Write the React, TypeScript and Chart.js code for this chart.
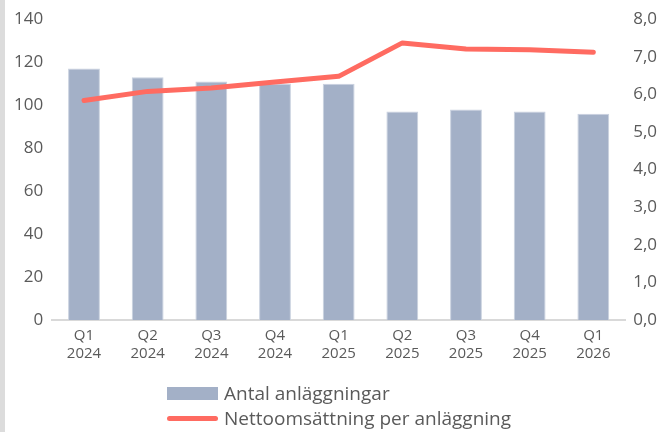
import React, { useEffect, useRef } from "react";
import { Chart, registerables } from "chart.js";

Chart.register(...registerables);

const categories: string[][] = [
  ["Q1", "2024"], ["Q2", "2024"], ["Q3", "2024"], ["Q4", "2024"],
  ["Q1", "2025"], ["Q2", "2025"], ["Q3", "2025"], ["Q4", "2025"], ["Q1", "2026"],
];
const antalAnlaggningar: number[] = [117, 113, 111, 110, 110, 97, 98, 97, 96];
const nettoPerAnlaggning: number[] = [5.84, 6.08, 6.17, 6.33, 6.48, 7.37, 7.21, 7.19, 7.12];

const barLabel = "Antal anläggningar";
const lineLabel = "Nettoomsättning per anläggning";
const barColor = "#a3b0c7";
const lineColor = "#ff6b61";
const textColor = "#5a5a5a";
const fontFamily = "'Open Sans', Inter, sans-serif";

export default function App() {
  const ref = useRef<HTMLCanvasElement>(null);
  useEffect(() => {
    document.body.style.margin = "0";
    const ctx = ref.current!;
    const chart = new Chart(ctx, {
      type: "bar",
      data: {
        labels: categories,
        datasets: [
          {
            type: "line",
            label: lineLabel,
            data: nettoPerAnlaggning,
            yAxisID: "y1",
            borderColor: lineColor,
            backgroundColor: lineColor,
            borderWidth: 5,
            pointRadius: 0,
            borderCapStyle: "round",
            borderJoinStyle: "round",
            tension: 0,
            order: 0,
          },
          {
            type: "bar",
            label: barLabel,
            data: antalAnlaggningar,
            yAxisID: "y",
            backgroundColor: barColor,
            borderColor: "#c9d1df",
            borderWidth: 1,
            barPercentage: 0.5,
            categoryPercentage: 1,
            order: 1,
          },
        ],
      },
      options: {
        responsive: false,
        animation: false,
        layout: { padding: { top: 0, right: 2, bottom: 62, left: 5 } },
        plugins: { legend: { display: false }, tooltip: { enabled: false } },
        scales: {
          x: {
            grid: { display: false, drawTicks: false },
            border: { display: true, color: "#d9d9d9", width: 2 },
            ticks: {
              color: textColor,
              font: { family: fontFamily, size: 15 },
              padding: 7,
              maxRotation: 0,
            },
          },
          y: {
            position: "left",
            min: 0,
            max: 140,
            grid: { display: false, drawTicks: false },
            border: { display: false },
            ticks: {
              stepSize: 20,
              color: textColor,
              font: { family: fontFamily, size: 17 },
              padding: 9,
            },
          },
          y1: {
            position: "right",
            min: 0,
            max: 8,
            grid: { display: false, drawTicks: false },
            border: { display: false },
            ticks: {
              stepSize: 1,
              color: textColor,
              font: { family: fontFamily, size: 17 },
              padding: 8,
              callback: (v: any) => Number(v).toFixed(1).replace(".", ","),
            },
          },
        },
      },
    });
    return () => chart.destroy();
  }, []);

  return (
    <div style={{ position: "relative", width: 667, height: 432, background: "#fff", overflow: "hidden" }}>
      <canvas ref={ref} width={667} height={432} style={{ display: "block" }} />
      <div style={{ position: "absolute", left: 0, top: 0, width: 5, height: 432, background: "#dcdcdc" }} />
      <div
        style={{
          position: "absolute",
          left: 167,
          top: 381,
          fontFamily,
          fontSize: 19,
          color: textColor,
          lineHeight: "25px",
        }}
      >
        <div style={{ display: "flex", alignItems: "center" }}>
          <span style={{ display: "inline-block", width: 51, height: 13, background: barColor, marginRight: 6 }} />
          <span>{barLabel}</span>
        </div>
        <div style={{ display: "flex", alignItems: "center" }}>
          <span style={{ display: "inline-block", width: 51, height: 5, borderRadius: 3, background: lineColor, marginRight: 6 }} />
          <span>{lineLabel}</span>
        </div>
      </div>
    </div>
  );
}
